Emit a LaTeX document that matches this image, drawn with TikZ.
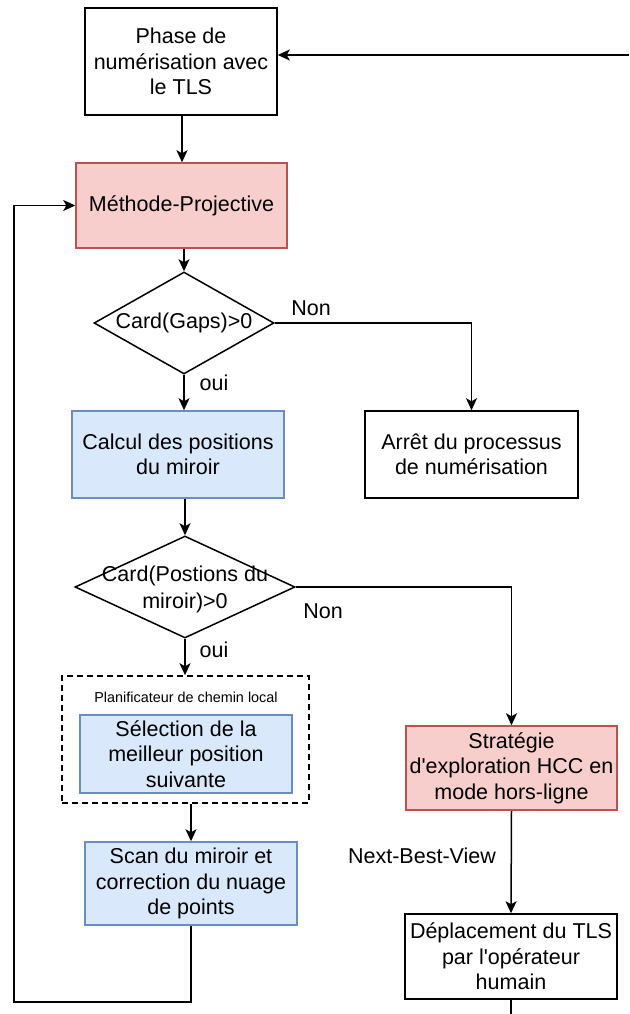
\documentclass[tikz,border=0pt]{standalone}
\usepackage{fontspec}
\setmainfont{Liberation Sans}[Ligatures=TeXOff]
\usetikzlibrary{arrows.meta,shapes.geometric}
\definecolor{pinkfill}{HTML}{F8CECC}
\definecolor{pinkline}{HTML}{B85450}
\definecolor{bluefill}{HTML}{DAE8FC}
\definecolor{blueline}{HTML}{6C8EBF}
\tikzset{
  base/.style={rectangle, draw=black, line width=1.5pt, align=center, inner sep=2pt,
    font=\fontsize{21.5}{25.5}\selectfont},
  plainbox/.style={base, fill=white},
  pinkbox/.style={base, fill=pinkfill, draw=pinkline},
  bluebox/.style={base, fill=bluefill, draw=blueline},
  dia/.style={diamond, draw=black, line width=1.5pt, inner sep=0pt, fill=white},
  dtext/.style={align=center, font=\fontsize{21.5}{27}\selectfont, inner sep=0pt},
  lbl/.style={font=\fontsize{21.5}{25.5}\selectfont, inner sep=0pt},
  small/.style={font=\fontsize{14.4}{17}\selectfont, inner sep=0pt},
  dashbox/.style={rectangle, draw=black, dashed, dash pattern=on 6pt off 4pt, line width=1.5pt},
  arr/.style={line width=1.5pt, -{Stealth[length=12pt,width=11pt,inset=3pt]}},
  ln/.style={line width=1.5pt}
}
\begin{document}
\begin{tikzpicture}[x=1pt,y=-1pt]
\useasboundingbox (0,0) rectangle (629,1014);
% nodes
\node[plainbox, minimum width=192pt, minimum height=107pt] (phase) at (181,61.5)
  {Phase de\\num\'erisation avec\\le TLS};
\node[pinkbox, minimum width=211pt, minimum height=85pt] (meth) at (181.5,205.5)
  {M\'ethode-Projective};
\node[dia, minimum width=180pt, minimum height=102pt] (d1) at (184,323) {};
\node[dtext] (d1t) at (d1.center) {Card(Gaps)>0};
\node[bluebox, minimum width=212pt, minimum height=87pt] (calc) at (178,454.5)
  {Calcul des positions\\du miroir};
\node[plainbox, minimum width=213pt, minimum height=87pt] (arret) at (471.5,454.5)
  {Arr\^et du processus\\de num\'erisation};
\node[dia, minimum width=220pt, minimum height=102pt] (d2) at (185,587) {};
\node[dtext] (d2t) at (185,589) {Card(Postions du\\miroir)>0};
\node[dashbox, minimum width=247pt, minimum height=127pt] (plan) at (185.5,739.5) {};
\node[small] (plant) at (186,697) {Planificateur de chemin local};
\node[bluebox, minimum width=212pt, minimum height=78pt] (sel) at (186,754)
  {S\'election de la\\meilleur position\\suivante};
\node[bluebox, minimum width=212pt, minimum height=83pt] (scan) at (191,883.5)
  {Scan du miroir et\\correction du nuage\\de points};
\node[pinkbox, minimum width=211pt, minimum height=84pt] (strat) at (511.5,768)
  {Strat\'egie\\d'exploration HCC en\\mode hors-ligne};
\node[plainbox, minimum width=212pt, minimum height=85pt] (depl) at (511,956.5)
  {D\'eplacement du TLS\\par l'op\'erateur\\humain};
% labels
\node[lbl] (non1) at (311,308) {Non};
\node[lbl] (oui1) at (214,383) {oui};
\node[lbl] (non2) at (323,611) {Non};
\node[lbl] (oui2) at (214,650) {oui};
\node[lbl] (nbv) at (422,856) {Next-Best-View};
% free ends
\coordinate (inr) at (629,55);
\coordinate (outb) at (511,1014);
\coordinate (lp) at (14,1002);
% connectors
\draw[arr] (inr) -- (inr -| phase.east);
\draw[arr] (phase.south -| 182,0) -- (meth.north -| 182,0);
\draw[arr] (meth.south -| d1.north) -- (d1.north);
\draw[arr] (d1.east) -| (arret.north);
\draw[arr] (d1.south) -- (d1.south |- calc.north);
\draw[arr] (calc.south -| d2.north) -- (d2.north);
\draw[arr] (d2.south) -- (d2.south |- plan.north);
\draw[arr] (d2.east) -| (strat.north);
\draw[arr] (scan.north |- plan.south) -- (scan.north);
\draw[arr] (strat.south) -- (depl.north);
\draw[ln] (depl.south) -- (outb);
\draw[arr] (scan.south) |- (lp) |- (meth.west);
\end{tikzpicture}
\end{document}
